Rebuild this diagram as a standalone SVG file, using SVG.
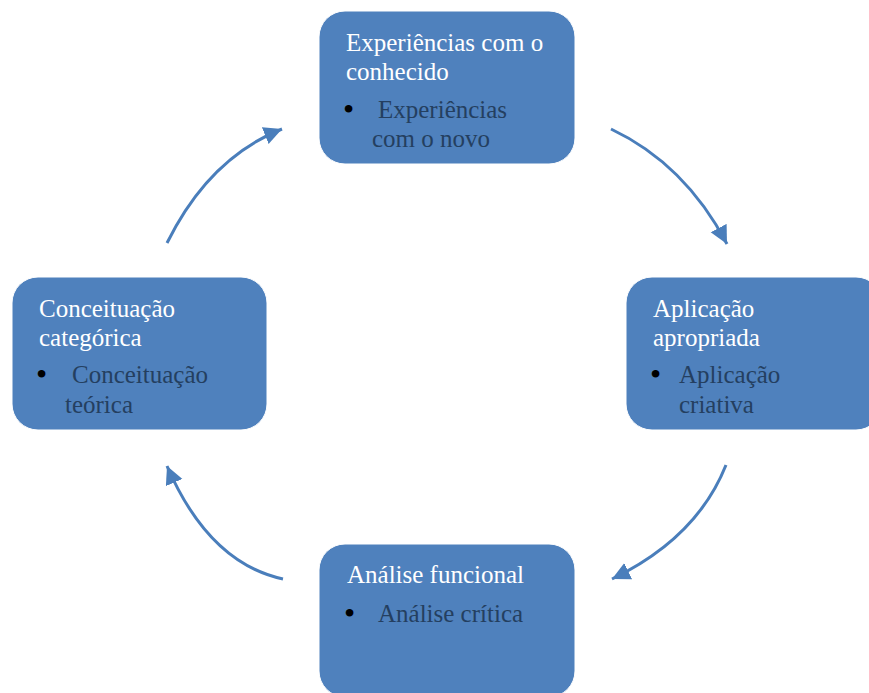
<svg xmlns="http://www.w3.org/2000/svg" width="869" height="693" viewBox="0 0 869 693">
<style>
.box{fill:#4F81BD;stroke:#ffffff;stroke-width:1}
.t{font-family:"Liberation Serif","Times New Roman",serif;font-size:25px;fill:#ffffff}
.b{font-family:"Liberation Serif","Times New Roman",serif;font-size:25px;fill:#243F60}
.d{font-family:"Liberation Serif","Times New Roman",serif;font-size:32px;fill:#000000}
.c{fill:none;stroke:#4A7EBB;stroke-width:3}
</style>
<defs>
<marker id="ah" markerUnits="userSpaceOnUse" markerWidth="22" markerHeight="22" refX="18" refY="9" orient="auto">
<path d="M0,0 L18,9 L0,18 Z" fill="#4A7EBB"/>
</marker>
</defs>
<rect width="869" height="693" fill="#ffffff"/>
<g id="connectors">
<path class="c" d="M167,243 Q209,158 282,129" marker-end="url(#ah)"/>
<path class="c" d="M611,129 Q685,164 727,244" marker-end="url(#ah)"/>
<path class="c" d="M726,465 Q697,538 612,579" marker-end="url(#ah)"/>
<path class="c" d="M283,579 Q209,563 167,466" marker-end="url(#ah)"/>
</g>
<g id="node-top">
<rect class="box" x="319" y="11" width="256" height="153" rx="26"/>
<text class="t" x="346" y="51">Experiências com o</text>
<text class="t" x="346" y="80">conhecido</text>
<text class="d" x="343" y="120">•</text>
<text class="b" x="378" y="118">Experiências</text>
<text class="b" x="372" y="147">com o novo</text>
</g>
<g id="node-right">
<rect class="box" x="626" y="277" width="256" height="153" rx="26"/>
<text class="t" x="653" y="317">Aplicação</text>
<text class="t" x="653" y="346">apropriada</text>
<text class="d" x="650" y="385">•</text>
<text class="b" x="679" y="383">Aplicação</text>
<text class="b" x="679" y="413">criativa</text>
</g>
<g id="node-bottom">
<rect class="box" x="319" y="544" width="256" height="153" rx="26"/>
<text class="t" x="347" y="583">Análise funcional</text>
<text class="d" x="344" y="624">•</text>
<text class="b" x="378" y="622">Análise crítica</text>
</g>
<g id="node-left">
<rect class="box" x="12" y="277" width="255" height="153" rx="26"/>
<text class="t" x="39" y="317">Conceituação</text>
<text class="t" x="39" y="346">categórica</text>
<text class="d" x="36" y="385">•</text>
<text class="b" x="72" y="383">Conceituação</text>
<text class="b" x="65" y="413">teórica</text>
</g>
</svg>
